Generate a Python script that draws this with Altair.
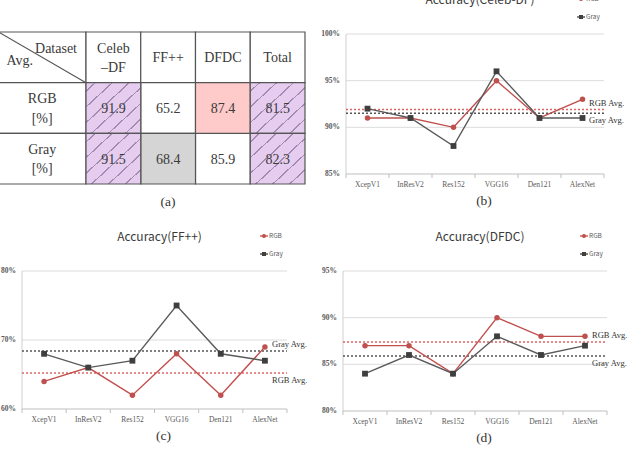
import altair as alt
import pandas as pd

# ---- data ---------------------------------------------------------------
models = ["XcepV1", "InResV2", "Res152", "VGG16", "Den121", "AlexNet"]

celeb_rgb = [91, 91, 90, 95, 91, 93]
celeb_gray = [92, 91, 88, 96, 91, 91]
ff_rgb = [64, 66, 62, 68, 62, 69]
ff_gray = [68, 66, 67, 75, 68, 67]
dfdc_rgb = [87, 87, 84, 90, 88, 88]
dfdc_gray = [84, 86, 84, 88, 86, 87]

table_columns = ["Celeb-DF", "FF++", "DFDC", "Total"]
table_headers = ["Celeb\n\u2013DF", "FF++", "DFDC", "Total"]
row_names = ["RGB", "Gray"]
row_labels = ["RGB\n[%]", "Gray\n[%]"]
rgb_avg = [91.9, 65.2, 87.4, 81.5]
gray_avg = [91.5, 68.4, 85.9, 82.3]

celeb_ticks = [85, 90, 95, 100]
ff_ticks = [60, 70, 80]
dfdc_ticks = [80, 85, 90, 95]

# ---- styling ------------------------------------------------------------
SERIF = "Liberation Serif"
SANS = "Noto Sans CJK KR"
RED = "#c0504d"
RED_DOT = "#e06464"
GRAY_LINE = "#5a5a5a"
GRAY_MARK = "#3f3f3f"
AXIS = "#bfbfbf"
GRID = "#dcdcdc"
LABEL = "#595959"
LINE_H = 19.5


def one_row(**kw):
    return pd.DataFrame({k: [v] for k, v in kw.items()})


def panel(title, rgb, gray, rgb_mean, gray_mean, ticks, x_range, y_range, caption):
    lo, hi = ticks[0], ticks[-1]
    left, right = -0.5, len(models) - 0.5
    xs = alt.Scale(domain=[left, right], range=x_range, nice=False, zero=False)
    ys = alt.Scale(domain=[lo, hi], range=y_range, nice=False, zero=False)

    def xf(f):
        return alt.X(f, type="quantitative", scale=xs, axis=None)

    def yf(f):
        return alt.Y(f, type="quantitative", scale=ys, axis=None)

    def xd(v):
        return alt.XDatum(v, scale=xs, axis=None)

    def yd(v):
        return alt.YDatum(v, scale=ys, axis=None)

    series = pd.DataFrame({"i": list(range(len(models))), "model": models,
                           "RGB": rgb, "Gray": gray})
    tick_df = pd.DataFrame({"v": ticks, "label": [f"{t}%" for t in ticks]})
    bounds = pd.DataFrame({"b": [k - 0.5 for k in range(len(models) + 1)]})

    grid = alt.Chart(tick_df).transform_filter(alt.datum.v > lo).mark_rule(
        color=GRID, strokeWidth=1).encode(y=yf("v"), x=xd(left), x2=alt.datum(right))
    yaxis = alt.Chart(one_row(a=0)).mark_rule(color="#d0d0d0", strokeWidth=1).encode(
        x=xd(left), y=yd(lo), y2=alt.datum(hi))
    xaxis = alt.Chart(one_row(a=0)).mark_rule(color=AXIS, strokeWidth=1).encode(
        y=yd(lo), x=xd(left), x2=alt.datum(right))
    xticks = alt.Chart(bounds).mark_rule(color=AXIS, strokeWidth=1, y2Offset=4).encode(
        x=xf("b"), y=yd(lo), y2=alt.datum(lo))
    ylabels = alt.Chart(tick_df).mark_text(
        align="right", baseline="middle", dx=-6, fontSize=7.5, font=SERIF,
        color=LABEL, fontWeight="bold").encode(y=yf("v"), x=xd(left), text="label:N")
    xlabels = alt.Chart(series).mark_text(
        baseline="middle", dy=11, fontSize=7.5, font=SERIF, color=LABEL).encode(
        x=xf("i"), y=yd(lo), text="model:N")

    rgb_above = rgb_mean >= gray_mean
    means = pd.DataFrame({"name": ["RGB Avg.", "Gray Avg."], "mean": [rgb_mean, gray_mean]})
    rgb_rule = alt.Chart(means).transform_filter(alt.datum.name == "RGB Avg.").mark_rule(
        color=RED_DOT, strokeWidth=1.5, strokeDash=[2, 2]).encode(
        y=yf("mean"), x=xd(left), x2=alt.datum(right))
    gray_rule = alt.Chart(means).transform_filter(alt.datum.name == "Gray Avg.").mark_rule(
        color="#555555", strokeWidth=1.5, strokeDash=[2, 2]).encode(
        y=yf("mean"), x=xd(left), x2=alt.datum(right))
    rgb_tag = alt.Chart(means).transform_filter(alt.datum.name == "RGB Avg.").mark_text(
        align="left", baseline="middle", dx=-15, dy=-7 if rgb_above else 7,
        fontSize=8.5, font=SERIF, color="#333333").encode(
        x=xd(right), y=yf("mean"), text="name:N")
    gray_tag = alt.Chart(means).transform_filter(alt.datum.name == "Gray Avg.").mark_text(
        align="left", baseline="middle", dx=-15, dy=7 if rgb_above else -7,
        fontSize=8.5, font=SERIF, color="#333333").encode(
        x=xd(right), y=yf("mean"), text="name:N")

    base = alt.Chart(series)
    rgb_line = base.mark_line(color=RED, strokeWidth=1.4).encode(x=xf("i"), y=yf("RGB"))
    rgb_pts = base.mark_point(shape="circle", filled=True, size=30, color=RED,
                              opacity=1).encode(x=xf("i"), y=yf("RGB"))
    gray_line = base.mark_line(color=GRAY_LINE, strokeWidth=1.4).encode(x=xf("i"), y=yf("Gray"))
    gray_pts = base.mark_point(shape="square", filled=True, size=34, color=GRAY_MARK,
                               opacity=1).encode(x=xf("i"), y=yf("Gray"))

    x0, x1 = x_range
    y_bottom, y_top = y_range
    mid = (x0 + x1) / 2

    head = alt.Chart(one_row(t=title)).mark_text(
        fontSize=12, font=SANS, color="#3a3a3a", baseline="middle").encode(
        x=alt.value(mid + 5), y=alt.value(y_top - 34), text="t:N")
    cap = alt.Chart(one_row(t=caption)).mark_text(
        fontSize=13.5, font=SERIF, color="#333333", baseline="middle").encode(
        x=alt.value(mid + 9), y=alt.value(y_bottom + 27), text="t:N")

    legend = []
    for k, (name, color, shape) in enumerate([("RGB", RED, "circle"),
                                              ("Gray", GRAY_MARK, "square")]):
        ly = y_top - 35 + 18 * k
        d = one_row(t=name)
        legend.append(alt.Chart(d).mark_rule(color=color, strokeWidth=1.3).encode(
            x=alt.value(x1 - 27), x2=alt.value(x1 - 19), y=alt.value(ly)))
        legend.append(alt.Chart(d).mark_point(shape=shape, filled=True, size=16,
                                              color=color, opacity=1).encode(
            x=alt.value(x1 - 23), y=alt.value(ly)))
        legend.append(alt.Chart(d).mark_text(
            align="left", baseline="middle", fontSize=6.5, font=SANS, color=LABEL).encode(
            x=alt.value(x1 - 18), y=alt.value(ly), text="t:N"))

    return alt.layer(grid, yaxis, xaxis, xticks, ylabels, xlabels,
                     rgb_rule, gray_rule, rgb_line, gray_line, rgb_pts, gray_pts,
                     rgb_tag, gray_tag, head, cap, *legend)


# ---- table --------------------------------------------------------------
edges = [0, 1.6, 2.6, 3.6, 4.6, 5.6]
txs = alt.Scale(domain=[0, 5.6], range=[-1.6, 305], nice=False, zero=False)
tys = alt.Scale(domain=[0, 3], range=[32, 184], nice=False, zero=False)

special = {("RGB", "Celeb-DF"): "hatch", ("Gray", "Celeb-DF"): "hatch",
           ("RGB", "Total"): "hatch", ("Gray", "Total"): "hatch",
           ("RGB", "DFDC"): "pink", ("Gray", "FF++"): "gray"}

cells, texts = [], []
for c in range(5):
    cells.append({"x0": edges[c], "x1": edges[c + 1], "y0": 0, "y1": 1, "style": "plain"})
for c, h in enumerate(table_headers):
    texts.append({"x": (edges[c + 1] + edges[c + 2]) / 2, "y": 0.5, "t": h})
for r, (name, lab, vals) in enumerate(zip(row_names, row_labels, [rgb_avg, gray_avg])):
    cells.append({"x0": edges[0], "x1": edges[1], "y0": r + 1, "y1": r + 2, "style": "plain"})
    texts.append({"x": edges[1] / 2, "y": r + 1.5, "t": lab})
    for c, (col, v) in enumerate(zip(table_columns, vals)):
        cells.append({"x0": edges[c + 1], "x1": edges[c + 2], "y0": r + 1, "y1": r + 2,
                      "style": special.get((name, col), "plain")})
        texts.append({"x": (edges[c + 1] + edges[c + 2]) / 2, "y": r + 1.5, "t": f"{v:.1f}"})
cells_df = pd.DataFrame(cells)
texts_df = pd.DataFrame(texts)
texts_df["lines"] = texts_df["t"].str.count("\n") + 1

HATCH_FILL = "#e6cdf0"
HATCH_LINE = "#a08cae"
stops = [alt.GradientStop(color=HATCH_FILL, offset=0)]
for k in range(7):
    s = 0.085 + 0.155 * k
    if s + 0.008 >= 1:
        break
    stops += [alt.GradientStop(color=HATCH_FILL, offset=s - 0.008),
              alt.GradientStop(color=HATCH_LINE, offset=s - 0.008),
              alt.GradientStop(color=HATCH_LINE, offset=s + 0.008),
              alt.GradientStop(color=HATCH_FILL, offset=s + 0.008)]
stops.append(alt.GradientStop(color=HATCH_FILL, offset=1))
hatch = alt.LinearGradient(gradient="linear", stops=stops, x1=0, y1=0, x2=1, y2=1)


def cell_layer(style, fill):
    return alt.Chart(cells_df).transform_filter(alt.datum.style == style).mark_rect(
        fill=fill, stroke="#555555", strokeWidth=1.2).encode(
        x=alt.X("x0:Q", scale=txs, axis=None), x2="x1:Q",
        y=alt.Y("y0:Q", scale=tys, axis=None), y2="y1:Q")


def text_layer(n_lines):
    return alt.Chart(texts_df).transform_filter(alt.datum.lines == n_lines).mark_text(
        fontSize=14, font=SERIF, color="#3a3a3a", baseline="middle", lineBreak="\n",
        lineHeight=LINE_H, dy=1 - (n_lines - 1) * LINE_H / 2).encode(
        x=alt.X("x:Q", scale=txs, axis=None), y=alt.Y("y:Q", scale=tys, axis=None),
        text="t:N")


diag = alt.Chart(one_row(a=0)).mark_rule(color="#555555", strokeWidth=1.1).encode(
    x=alt.XDatum(0, scale=txs, axis=None), x2=alt.datum(edges[1]),
    y=alt.YDatum(0, scale=tys, axis=None), y2=alt.datum(1))
corner_top = alt.Chart(one_row(t="Dataset")).mark_text(
    fontSize=14, font=SERIF, color="#3a3a3a", align="right", baseline="middle",
    dx=-9, dy=-8).encode(x=alt.XDatum(edges[1], scale=txs, axis=None),
                         y=alt.YDatum(0.5, scale=tys, axis=None), text="t:N")
corner_bottom = alt.Chart(one_row(t="Avg.")).mark_text(
    fontSize=14, font=SERIF, color="#3a3a3a", align="left", baseline="middle",
    dx=8, dy=3.5).encode(x=alt.XDatum(0, scale=txs, axis=None),
                         y=alt.YDatum(0.5, scale=tys, axis=None), text="t:N")
cap_a = alt.Chart(one_row(t="(a)")).mark_text(
    fontSize=13.5, font=SERIF, color="#333333", baseline="middle").encode(
    x=alt.value(168), y=alt.value(202), text="t:N")

table = alt.layer(cell_layer("plain", "white"), cell_layer("pink", "#ffcaca"),
                  cell_layer("gray", "#d5d5d5"), cell_layer("hatch", hatch),
                  diag, text_layer(1), text_layer(2), corner_top, corner_bottom, cap_a)

# ---- line panels --------------------------------------------------------
panel_b = panel("Accuracy(Celeb-DF)", celeb_rgb, celeb_gray, rgb_avg[0], gray_avg[0],
                celeb_ticks, [346, 604], [174, 34], "(b)")
panel_c = panel("Accuracy(FF++)", ff_rgb, ff_gray, rgb_avg[1], gray_avg[1],
                ff_ticks, [22, 287], [409, 271], "(c)")
panel_d = panel("Accuracy(DFDC)", dfdc_rgb, dfdc_gray, rgb_avg[2], gray_avg[2],
                dfdc_ticks, [343, 607], [411, 271], "(d)")

chart = alt.layer(table, panel_b, panel_c, panel_d).resolve_scale(
    x="independent", y="independent").properties(
    width=631, height=450, autosize=alt.AutoSizeParams(type="none"), padding=0,
    background="white").configure_view(stroke=None)

chart.save("out.html", embed_options={"renderer": "svg", "actions": False})
